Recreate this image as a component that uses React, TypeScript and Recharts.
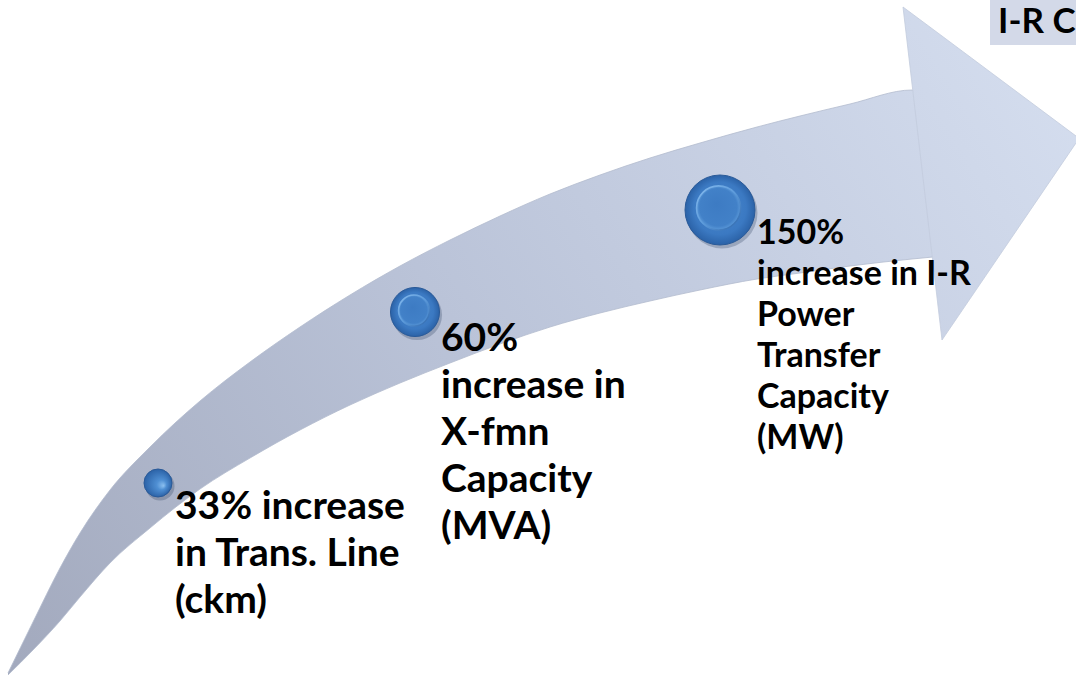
import React from 'react';
import { ComposedChart, Area, Scatter, XAxis, YAxis, ZAxis, ReferenceArea } from 'recharts';

// Arrow outline (shaft: upper / lower edge along x)
const shaftX = [8, 33, 60, 80, 110, 150, 200, 250, 300, 350, 400, 450, 500, 550, 600, 650, 700, 757, 800, 850, 912, 933];
const shaftUpper = [673, 622, 568, 533, 490, 447, 401, 362, 327, 295, 266, 240, 216, 194, 175, 158, 143, 127, 116, 104, 90, 257];
const shaftLower = [675, 650, 621, 597, 563, 528, 489, 458, 430, 405, 383, 363, 344, 327, 313, 301, 290, 279, 273, 266, 259, 257];

// Arrow head
const headX = [903, 942, 1076];
const headUpper = [7, 36, 136];
const headLower = [7, 340, 143];

// Milestones (beads on the arrow)
const milestoneX = [158, 415, 720];
const milestoneY = [483, 312, 210];
const milestonePct = [33, 60, 150];

// Labels
const labelX = [175, 441, 757];
const labelY = [519, 351, 244];
const labelLines = [
  ['33% increase', 'in Trans. Line', '(ckm)'],
  ['60%', 'increase in', 'X-fmn', 'Capacity', '(MVA)'],
  ['150%', 'increase in I-R', 'Power', 'Transfer', 'Capacity', '(MW)'],
];

const cornerText = 'I-R C';

const W = 1076;
const H = 677;
const FONT = "Lato, 'Open Sans', sans-serif";

const labelStyles = [
  { fontSize: 39, lineHeight: 47 },
  { fontSize: 39, lineHeight: 47 },
  { fontSize: 34, lineHeight: 41 },
];

const rows: any[] = [
  ...shaftX.map((x, i) => ({ x, shaft: [shaftLower[i], shaftUpper[i]], head: null })),
  ...headX.map((x, i) => ({ x, head: [headLower[i], headUpper[i]], shaft: null })),
].sort((a, b) => a.x - b.x);

const beads = milestoneX.map((x, i) => ({ x, y: milestoneY[i], z: milestonePct[i] }));
const labels = labelX.map((x, i) => ({ x, y: labelY[i], z: milestonePct[i], idx: i }));

const Bead = (props: any) => {
  const { cx, cy, width } = props;
  if (cx == null || cy == null || !width) return null;
  const r = width / 2;
  const big = r > 18;
  return (
    <g>
      <circle cx={cx + 2} cy={cy + 3} r={r + 0.5} fill="#1b2f4f" opacity={0.25} />
      <circle cx={cx} cy={cy} r={r} fill={big ? 'url(#beadOuter)' : 'url(#beadSmall)'} stroke="#2a5a98" strokeWidth={1} />
      {big && (
        <circle cx={cx - r * 0.04} cy={cy - r * 0.06} r={r * 0.63} fill="url(#beadInner)" stroke="url(#beadRim)" strokeWidth={1.6} />
      )}
    </g>
  );
};

const LabelBlock = (props: any) => {
  const { cx, cy, payload } = props;
  if (cx == null || cy == null) return null;
  const i = payload.idx;
  const st = labelStyles[i];
  return (
    <text x={cx} y={cy} fontFamily={FONT} fontWeight={700} fontSize={st.fontSize} fill="#000">
      {labelLines[i].map((l, k) => (
        <tspan key={k} x={cx} dy={k === 0 ? 0 : st.lineHeight}>
          {l}
        </tspan>
      ))}
    </text>
  );
};

const CornerLabel = (props: any) => {
  const { viewBox } = props;
  if (!viewBox) return null;
  return (
    <text x={viewBox.x + 8} y={viewBox.y + 33} fontFamily={FONT} fontWeight={700} fontSize={35} fill="#000">
      {cornerText}
    </text>
  );
};

export default function App() {
  return (
    <div style={{ position: 'absolute', left: 0, top: 0, width: W, height: H, background: '#fff', overflow: 'hidden' }}>
      <ComposedChart width={W} height={H} data={rows} margin={{ top: 0, right: 0, bottom: 0, left: 0 }}>
        <defs>
          <linearGradient id="arrowFill" gradientUnits="userSpaceOnUse" x1="0" y1="677" x2="1076" y2="0">
            <stop offset="0" stopColor="#a2a9bd" />
            <stop offset="0.45" stopColor="#bac3d8" />
            <stop offset="1" stopColor="#d6dff0" />
          </linearGradient>
          <radialGradient id="beadOuter" cx="0.5" cy="0.5" r="0.5" fx="0.5" fy="0.4">
            <stop offset="0" stopColor="#4a89cf" />
            <stop offset="0.75" stopColor="#3b79c2" />
            <stop offset="1" stopColor="#2b62a7" />
          </radialGradient>
          <radialGradient id="beadSmall" cx="0.5" cy="0.5" r="0.5" fx="0.7" fy="0.6">
            <stop offset="0" stopColor="#8cc0f0" />
            <stop offset="0.35" stopColor="#4f8fd3" />
            <stop offset="1" stopColor="#2b62a7" />
          </radialGradient>
          <radialGradient id="beadInner" cx="0.5" cy="0.5" r="0.5" fx="0.45" fy="0.4">
            <stop offset="0" stopColor="#3d7bc3" />
            <stop offset="0.85" stopColor="#4281c8" />
            <stop offset="1" stopColor="#5a98d8" />
          </radialGradient>
          <linearGradient id="beadRim" x1="0" y1="0" x2="1" y2="1">
            <stop offset="0" stopColor="#86bbee" />
            <stop offset="0.5" stopColor="#5d9bdb" />
            <stop offset="1" stopColor="#2e66aa" />
          </linearGradient>
        </defs>
        <XAxis type="number" dataKey="x" domain={[0, W]} hide allowDataOverflow />
        <YAxis type="number" dataKey="y" domain={[0, H]} reversed hide allowDataOverflow />
        <ZAxis type="number" dataKey="z" domain={[33, 150]} range={[616, 3848]} scale="log" />
        <Area
          type="monotone"
          dataKey="shaft"
          fill="url(#arrowFill)"
          fillOpacity={1}
          stroke="#b3bbce"
          strokeWidth={0.8}
          connectNulls
          isAnimationActive={false}
          dot={false}
          activeDot={false}
        />
        <Area
          type="linear"
          dataKey="head"
          fill="url(#arrowFill)"
          fillOpacity={1}
          stroke="#c3cbdd"
          strokeWidth={0.8}
          connectNulls
          isAnimationActive={false}
          dot={false}
          activeDot={false}
        />
        <ReferenceArea x1={990} x2={1076} y1={0} y2={45} fill="#d3d9e8" fillOpacity={1} stroke="none" label={<CornerLabel />} />
        <Scatter data={beads} shape={<Bead />} isAnimationActive={false} />
        <Scatter data={labels} shape={<LabelBlock />} isAnimationActive={false} />
      </ComposedChart>
    </div>
  );
}
